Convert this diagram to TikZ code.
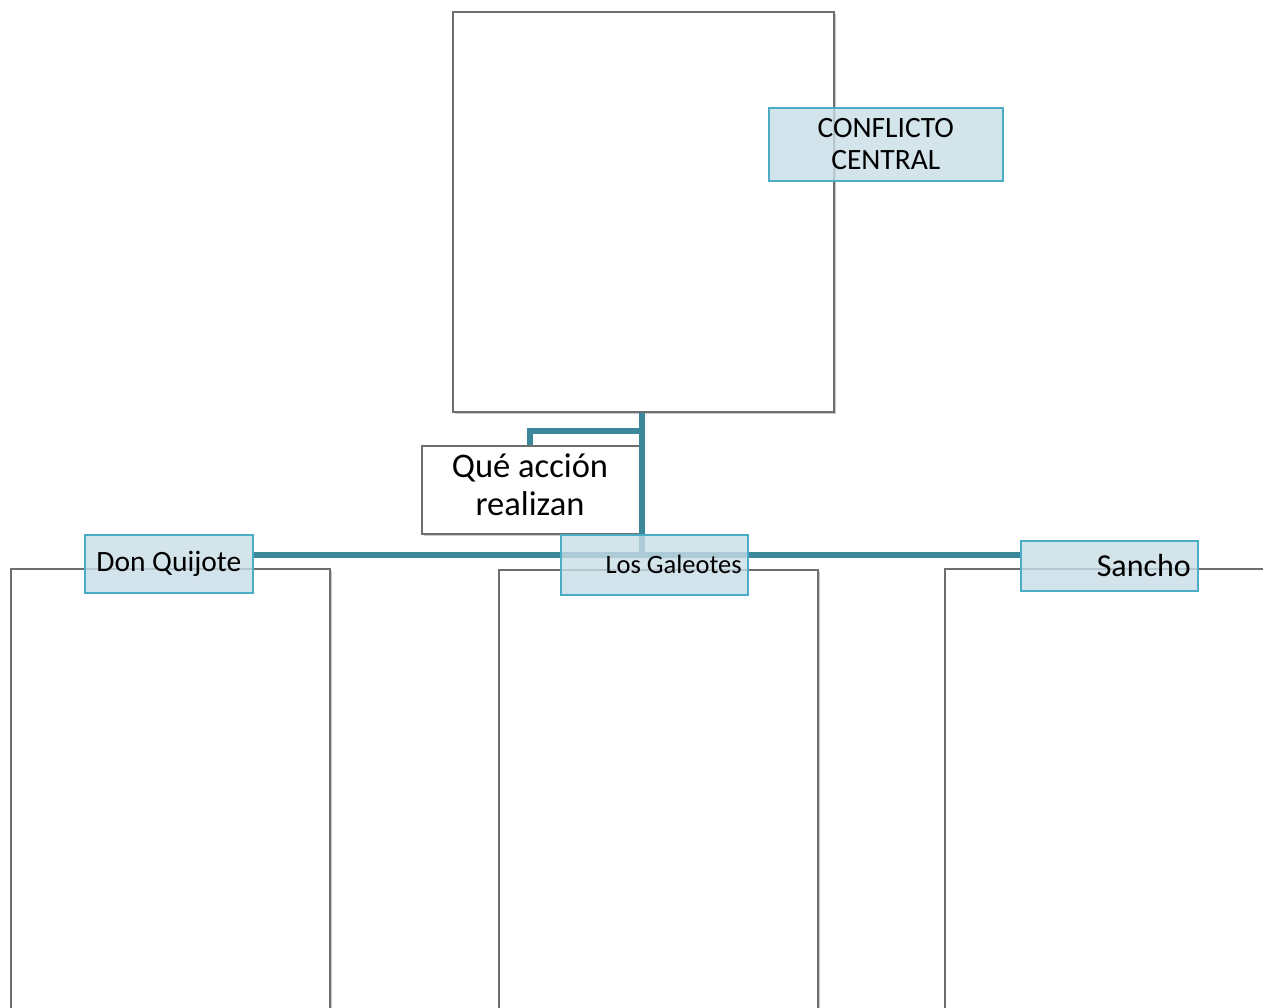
\documentclass[tikz,border=0pt]{standalone}
\usepackage{fontspec}
\setmainfont{Carlito}
\usetikzlibrary{shadows}
\definecolor{teal1}{HTML}{3C8799}
\definecolor{lblfill}{HTML}{C9DDE6}
\definecolor{lbldraw}{HTML}{4BACC6}
\definecolor{boxdraw}{HTML}{6E6E6E}
\tikzset{
  panel/.style={draw=boxdraw, line width=1.6pt, fill=white, drop shadow={shadow xshift=2pt, shadow yshift=-2pt, opacity=0.35, fill=black!60}},
  conn/.style={draw=teal1, line width=5.5pt},
  lbl/.style={draw=lbldraw, line width=1.6pt, fill=lblfill, fill opacity=0.8, text opacity=1},
}
\begin{document}
\begin{tikzpicture}[x=1pt,y=-1pt]
\useasboundingbox (0,0) rectangle (1263,1007);
% panels
\node[panel, minimum width=381pt, minimum height=400pt, anchor=north west, inner sep=0] (top) at (452,11) {};
\node[panel, minimum width=319pt, minimum height=460pt, anchor=north west, inner sep=0] (pl) at (10,568) {};
\node[panel, minimum width=319pt, minimum height=460pt, anchor=north west, inner sep=0] (pm) at (498,569) {};
\node[panel, minimum width=319pt, minimum height=460pt, anchor=north west, inner sep=0] (pr) at (944,568) {};
% question box
\node[panel, minimum width=218pt, minimum height=88pt, anchor=north west, inner sep=0] (q) at (421,445) {};
\node[inner sep=0, align=center, font=\fontsize{34.5}{38}\selectfont] (qt) at (530,485) {Qué acción\\realizan};
% coordinates for connectors
\coordinate (jv) at (642,431);
\coordinate (jh) at (642,555);
\coordinate (qb) at (530,431);
\coordinate (hl) at (252,555);
\coordinate (hr) at (1020,555);
% connectors
\draw[conn] (top.south -| jv) -- (jh);
\draw[conn] (jv) -- (qb) -- (q.north -| qb);
\draw[conn] (hl) -- (hr);
% labels
\node[lbl, minimum width=234pt, minimum height=73pt, anchor=north west, inner sep=0, align=center, font=\fontsize{29.5}{32}\selectfont] (cc) at (768,107) {CONFLICTO\\CENTRAL};
\node[lbl, minimum width=168pt, minimum height=58pt, anchor=north west, inner sep=0, font=\fontsize{29.5}{32}\selectfont] (dq) at (84,534) {Don Quijote};
\node[lbl, minimum width=187pt, minimum height=60pt, anchor=north west, inner sep=0] (lg) at (560,534) {};
\node[anchor=east, inner sep=0, font=\fontsize{26.5}{30}\selectfont] (lgt) at (742,564) {Los Galeotes};
\node[lbl, minimum width=177pt, minimum height=50pt, anchor=north west, inner sep=0] (sa) at (1020,540) {};
\node[anchor=east, inner sep=0, font=\fontsize{32}{36}\selectfont] (sat) at (1191,565) {Sancho};
\end{tikzpicture}
\end{document}
